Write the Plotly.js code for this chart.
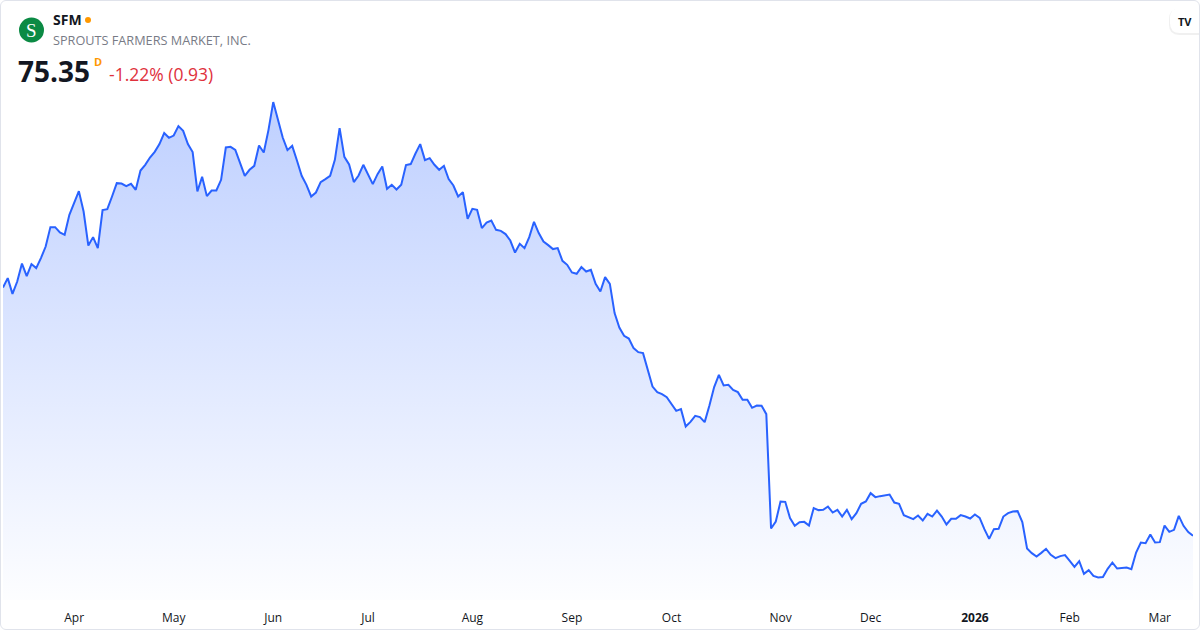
<!DOCTYPE html>
<html>
<head>
<meta charset="utf-8">
<script src="https://cdn.plot.ly/plotly-3.0.1.min.js"></script>
<style>
  html, body { margin: 0; padding: 0; background: #ffffff; }
  #wrap { position: relative; width: 1200px; height: 630px; overflow: hidden; }
  #chart { position: absolute; left: 0; top: 0; width: 1200px; height: 630px; }
  #frame { position: absolute; left: 0; top: 0; width: 1200px; height: 630px; box-sizing: border-box;
           border: 1px solid #e0e3eb; border-radius: 6px; pointer-events: none; }
</style>
</head>
<body>
<div id="wrap"><div id="chart"></div><div id="frame"></div></div>
<script>
// ---- data (daily closes, SFM) ----
const startDate = '2025-03-11';
const holidays = ['2025-04-18','2025-05-26','2025-06-19','2025-07-04','2025-09-01',
                  '2025-11-27','2025-12-25','2026-01-01','2026-01-19','2026-02-16'];
const closes = [
  135.91,138.20,134.37,137.37,141.76,138.69,141.62,140.64,143.08,145.91,150.64,150.64,149.33,148.76,153.64,156.50,159.42,154.45,146.15,148.20,145.52,154.79,155.03,158.11,161.37,161.28,160.64,161.20,159.74,164.45,165.84,167.62,169.01,170.89,173.57,172.42,172.98,175.28,174.13,170.89,168.94,159.33,162.91,158.20,159.57,159.57,162.18,170.06,170.23,169.50,166.25,
  163.15,164.62,165.59,170.55,168.84,174.37,181.13,176.81,172.50,169.42,170.47,166.89,163.15,160.96,158.11,159.08,161.62,162.35,163.15,167.06,174.79,167.79,165.91,161.62,163.23,165.84,163.40,161.13,163.57,165.42,159.98,160.96,159.81,160.96,165.76,166.01,168.59,170.89,166.98,167.47,165.84,164.62,165.59,162.35,160.79,158.11,159.18,152.67,155.11,154.86,
  150.40,151.76,152.25,149.98,149.74,148.94,147.37,144.45,146.57,145.52,148.20,151.94,149.18,147.13,146.25,145.28,145.52,142.42,141.45,139.57,139.25,140.89,139.81,140.23,136.81,134.94,138.45,136.81,129.67,126.15,124.13,123.47,121.13,120.15,119.91,116.01,111.76,110.40,109.91,109.18,107.55,105.84,106.25,102.01,103.15,104.62,104.30,103.08,107.13,111.62,114.62,
  112.01,112.18,110.96,110.40,108.52,108.52,106.57,107.13,107.06,105.03,77.13,78.84,83.72,83.64,79.67,77.79,78.69,78.76,77.86,82.11,81.62,81.69,82.50,81.03,81.69,80.06,81.69,79.42,80.89,83.15,83.72,85.76,84.79,85.03,85.18,85.42,83.47,83.15,80.40,79.81,79.42,80.30,79.08,80.72,80.06,81.52,80.06,78.11,79.50,79.50,80.40,
  80.06,79.57,80.55,79.74,76.98,74.62,76.98,77.06,80.06,80.89,81.28,81.37,78.69,72.25,71.13,70.30,71.20,72.18,70.72,69.91,70.40,70.64,69.25,67.79,69.18,66.08,66.98,65.59,65.18,65.28,67.30,68.84,67.37,67.47,67.62,67.23,71.28,73.72,73.57,75.67,73.72,73.81,77.86,76.33,76.81,80.23,77.79,76.28,75.35
];
const monthLabels = ['Apr','May','Jun','Jul','Aug','Sep','Oct','Nov','Dec','<b>2026</b>','Feb','Mar'];
const ticker = 'SFM';
const company = 'SPROUTS FARMERS MARKET, INC.';
const lastPrice = '75.35';
const change = '-1.22% (0.93)';

// ---- trading calendar ----
const dates = [];
{
  let d = new Date(startDate + 'T00:00:00Z');
  while (dates.length < closes.length) {
    const iso = d.toISOString().slice(0, 10);
    const wd = d.getUTCDay();
    if (wd !== 0 && wd !== 6 && holidays.indexOf(iso) < 0) dates.push(iso);
    d = new Date(d.getTime() + 86400000);
  }
}
const tickvals = [];
{
  let lastMonth = dates[0].slice(0, 7);
  for (const ds of dates) {
    const m = ds.slice(0, 7);
    if (m !== lastMonth) { tickvals.push(ds); lastMonth = m; }
  }
}
const ticktext = monthLabels.slice(0, tickvals.length);

// ---- geometry helpers (pixel -> paper) ----
const W = 1200, H = 630, ML = 3, MR = 7, MT = 60, MB = 30;
const PW = W - ML - MR, PH = H - MT - MB;
const px = x => (x - ML) / PW;
const py = y => (H - MB - y) / PH;

const ymin = 59.7, ymax = 191.4;
const FONT = '"Open Sans", "Noto Sans", sans-serif';

const trace = {
  x: dates, y: closes, type: 'scatter', mode: 'lines',
  line: { color: '#2962ff', width: 2 },
  fill: 'tozeroy',
  fillgradient: {
    type: 'vertical', start: ymin, stop: 181,
    colorscale: [[0, 'rgba(41,98,255,0.01)'], [1, 'rgba(41,98,255,0.30)']]
  },
  hoverinfo: 'skip'
};

// rounded pill for the logo badge (pixel coordinates converted to paper)
function pill(x0, y0, x1, y1, r) {
  const P = (x, y) => px(x).toFixed(5) + ',' + py(y).toFixed(5);
  return 'M' + P(x0 + r, y0) + ' L' + P(x1, y0) + ' L' + P(x1, y1) + ' L' + P(x0 + r, y1) +
         ' Q' + P(x0, y1) + ' ' + P(x0, y1 - r) + ' L' + P(x0, y0 + r) + ' Q' + P(x0, y0) + ' ' + P(x0 + r, y0) + ' Z';
}

const layout = {
  width: W, height: H,
  margin: { l: ML, r: MR, t: MT, b: MB, pad: 0 },
  paper_bgcolor: 'rgba(0,0,0,0)', plot_bgcolor: 'rgba(0,0,0,0)',
  font: { family: FONT, color: '#131722' },
  showlegend: false,
  xaxis: {
    type: 'category', range: [0, closes.length - 1],
    tickmode: 'array', tickvals: tickvals, ticktext: ticktext,
    showgrid: false, zeroline: false, showline: false, ticks: '',
    ticklabelstandoff: 9,
    tickfont: { size: 12, color: '#131722', family: FONT }, fixedrange: true
  },
  yaxis: {
    range: [ymin, ymax], visible: false, showgrid: false, zeroline: false, fixedrange: true
  },
  shapes: [
    { type: 'circle', xref: 'paper', yref: 'paper', xsizemode: 'pixel', ysizemode: 'pixel',
      xanchor: px(31.5), yanchor: py(30), x0: -12.5, x1: 12.5, y0: -12.5, y1: 12.5,
      fillcolor: '#0b8a44', line: { width: 0 } },
    { type: 'circle', xref: 'paper', yref: 'paper', xsizemode: 'pixel', ysizemode: 'pixel',
      xanchor: px(88), yanchor: py(20), x0: -3, x1: 3, y0: -3, y1: 3,
      fillcolor: '#ff9800', line: { width: 0 } },
    { type: 'path', xref: 'paper', yref: 'paper', path: pill(1169, 9, 1204, 35, 10),
      fillcolor: 'rgba(0,0,0,0.06)', line: { width: 0 } },
    { type: 'path', xref: 'paper', yref: 'paper', path: pill(1170, 8, 1204, 33, 10),
      fillcolor: '#ffffff', line: { width: 0 } }
  ],
  annotations: [
    { text: 'S', xref: 'paper', yref: 'paper', x: px(31.5), y: py(30.5), xanchor: 'center', yanchor: 'middle',
      showarrow: false, font: { family: '"Liberation Serif", "DejaVu Serif", serif', size: 19, color: '#ffffff' } },
    { text: '<b>' + ticker + '</b>', xref: 'paper', yref: 'paper', x: px(51), y: py(20), xanchor: 'left', yanchor: 'middle',
      showarrow: false, font: { family: FONT, size: 14, color: '#131722' } },
    { text: company, xref: 'paper', yref: 'paper', x: px(51), y: py(40), xanchor: 'left', yanchor: 'middle',
      showarrow: false, font: { family: FONT, size: 12.7, color: '#787b86' } },
    { text: '<b>' + lastPrice + '</b>', xref: 'paper', yref: 'paper', x: px(16), y: py(71), xanchor: 'left', yanchor: 'middle',
      showarrow: false, font: { family: FONT, size: 28, color: '#131722' } },
    { text: '<b>D</b>', xref: 'paper', yref: 'paper', x: px(97.5), y: py(61), xanchor: 'center', yanchor: 'middle',
      showarrow: false, font: { family: FONT, size: 11, color: '#ff9800' } },
    { text: change, xref: 'paper', yref: 'paper', x: px(107), y: py(74), xanchor: 'left', yanchor: 'middle',
      showarrow: false, font: { family: FONT, size: 17.5, color: '#e0313d' } },
    { text: '<b>TV</b>', xref: 'paper', yref: 'paper', x: px(1185), y: py(21), xanchor: 'center', yanchor: 'middle',
      showarrow: false, font: { family: FONT, size: 11, color: '#131722' } }
  ]
};

Plotly.newPlot('chart', [trace], layout, { staticPlot: true, displayModeBar: false });
</script>
</body>
</html>
